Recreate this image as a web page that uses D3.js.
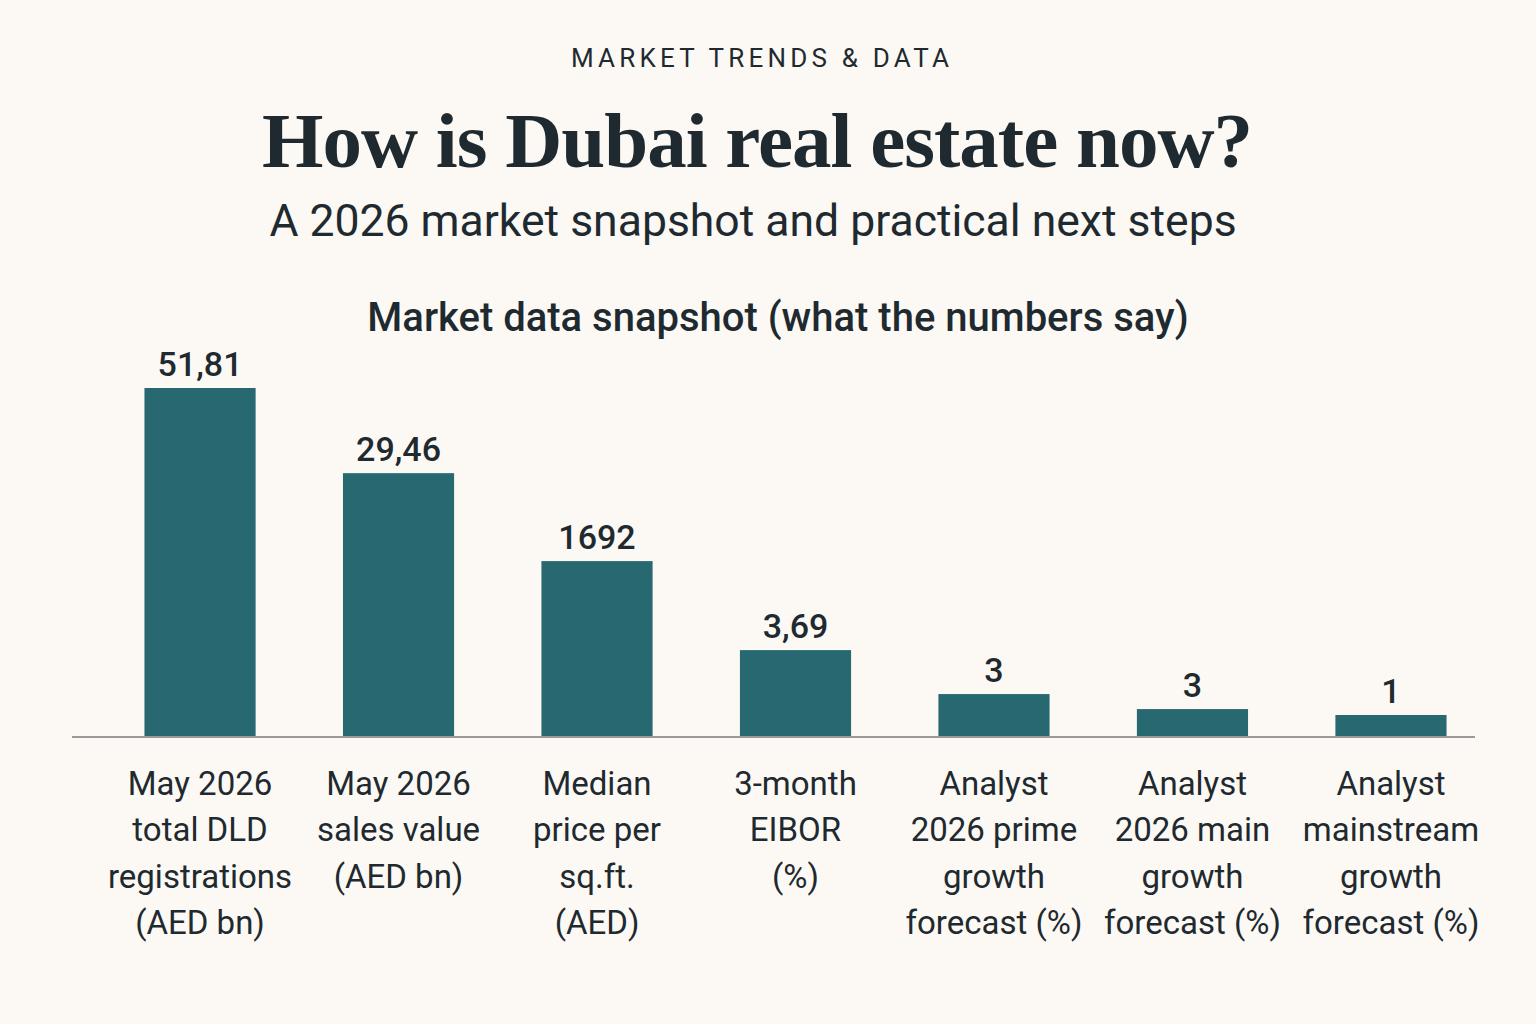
<!DOCTYPE html>
<html>
<head>
<meta charset="utf-8">
<script src="https://cdn.jsdelivr.net/npm/d3@7"></script>
<style>
  html, body { margin: 0; padding: 0; background: #fcf9f4; }
  svg { display: block; }
</style>
</head>
<body>
<div id="chart"></div>
<script>
// Categories (each label split into its drawn lines)
const categories = [
    ["May 2026", "total DLD", "registrations", "(AED bn)"],
    ["May 2026", "sales value", "(AED bn)"],
    ["Median", "price per", "sq.ft.", "(AED)"],
    ["3-month", "EIBOR", "(%)"],
    ["Analyst", "2026 prime", "growth", "forecast (%)"],
    ["Analyst", "2026 main", "growth", "forecast (%)"],
    ["Analyst", "mainstream", "growth", "forecast (%)"]
];

// Printed values
const valueLabels = ["51,81", "29,46", "1692", "3,69", "3", "3", "1"];

// Bar heights as drawn (relative index, tallest = 100) — bars are not to value scale
const barIndex = [100, 75.6, 50.4, 24.9, 12.3, 8.0, 6.3];

const width = 1536, height = 1024;
const baseY = 737, topY = 388;

const svg = d3.select("#chart")
    .append("svg")
    .attr("width", width)
    .attr("height", height);

svg.append("rect")
    .attr("width", width)
    .attr("height", height)
    .attr("fill", "#fcf9f4");

// Headings
svg.append("text")
    .attr("x", 762)
    .attr("y", 67)
    .attr("text-anchor", "middle")
    .style("font-family", "Roboto, sans-serif")
    .style("font-size", "26px")
    .style("letter-spacing", "4.2px")
    .style("fill", "#1f2a30")
    .text("MARKET TRENDS & DATA");

svg.append("text")
    .attr("x", 757)
    .attr("y", 167)
    .attr("text-anchor", "middle")
    .style("font-family", "'Liberation Serif', 'Times New Roman', serif")
    .style("font-weight", "bold")
    .style("font-size", "79px")
    .style("letter-spacing", "-1px")
    .style("fill", "#1f2a30")
    .text("How is Dubai real estate now?");

svg.append("text")
    .attr("x", 753)
    .attr("y", 236)
    .attr("text-anchor", "middle")
    .style("font-family", "Roboto, sans-serif")
    .style("font-size", "44.5px")
    .style("fill", "#1f2a30")
    .text("A 2026 market snapshot and practical next steps");

svg.append("text")
    .attr("x", 778)
    .attr("y", 331)
    .attr("text-anchor", "middle")
    .style("font-family", "Roboto, sans-serif")
    .style("font-weight", "500")
    .style("font-size", "40px")
    .style("fill", "#1f2a30")
    .text("Market data snapshot (what the numbers say)");

// Scales
const x = d3.scaleBand()
    .domain(d3.range(categories.length))
    .range([100, 1491])
    .paddingInner(0.44)
    .paddingOuter(0.224);

const y = d3.scaleLinear()
    .domain([0, 100])
    .range([baseY, topY]);

// Bars
svg.selectAll(".bar")
    .data(barIndex)
    .join("rect")
    .attr("class", "bar")
    .attr("x", (d, i) => x(i))
    .attr("y", d => y(d))
    .attr("width", x.bandwidth())
    .attr("height", d => baseY - y(d))
    .attr("fill", "#286871");

// Baseline
svg.append("line")
    .attr("x1", 72)
    .attr("x2", 1475)
    .attr("y1", baseY)
    .attr("y2", baseY)
    .attr("stroke", "#9a9a98")
    .attr("stroke-width", 2);

// Value labels
svg.selectAll(".val")
    .data(barIndex)
    .join("text")
    .attr("class", "val")
    .attr("x", (d, i) => x(i) + x.bandwidth() / 2)
    .attr("y", d => y(d) - 12)
    .attr("text-anchor", "middle")
    .style("font-family", "Roboto, sans-serif")
    .style("font-weight", "500")
    .style("font-size", "34px")
    .style("fill", "#1f2a30")
    .text((d, i) => valueLabels[i]);

// Category labels
const cat = svg.selectAll(".cat")
    .data(categories)
    .join("text")
    .attr("class", "cat")
    .attr("text-anchor", "middle")
    .style("font-family", "Roboto, sans-serif")
    .style("font-size", "33px")
    .style("fill", "#1f2a30");

cat.selectAll("tspan")
    .data((d, i) => d.map(line => ({ line, i })))
    .join("tspan")
    .attr("x", d => x(d.i) + x.bandwidth() / 2)
    .attr("y", (d, j) => 795 + j * 46.3)
    .text(d => d.line);
</script>
</body>
</html>
